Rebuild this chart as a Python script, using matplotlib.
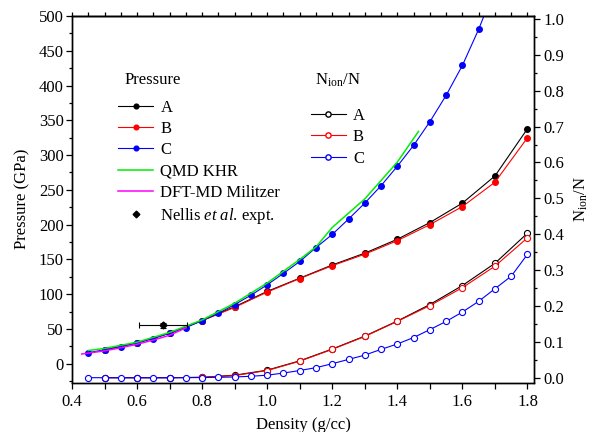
import matplotlib
matplotlib.use('Agg')
import matplotlib.pyplot as plt
from matplotlib.ticker import MultipleLocator, FormatStrFormatter
from matplotlib.lines import Line2D
import numpy as np

plt.rcParams['font.family'] = ['Liberation Serif', 'DejaVu Serif']
plt.rcParams['mathtext.fontset'] = 'custom'
plt.rcParams['mathtext.rm'] = 'Liberation Serif'
plt.rcParams['mathtext.it'] = 'Liberation Serif:italic'
plt.rcParams['font.size'] = 12

# ---------------- data ----------------
density_ab = [0.5, 0.6, 0.7, 0.8, 0.9, 1.0, 1.1, 1.2, 1.3, 1.4, 1.5, 1.6, 1.7, 1.8]
pressure_a = [20, 30, 44, 62, 82, 104, 123, 142, 159, 179, 203, 231, 270, 338]
pressure_b = [20, 30, 44, 62, 81, 103, 122.5, 141, 157.5, 177, 200, 226, 261, 325]
ion_a = [0.0, 0.0, 0.0, 0.001, 0.007, 0.021, 0.047, 0.080, 0.116, 0.158, 0.204, 0.257, 0.319, 0.403]
ion_b = [0.0, 0.0, 0.0, 0.001, 0.006, 0.020, 0.046, 0.079, 0.115, 0.157, 0.201, 0.251, 0.311, 0.390]

density_c = [0.45, 0.5, 0.55, 0.6, 0.65, 0.7, 0.75, 0.8, 0.85, 0.9, 0.95, 1.0, 1.05, 1.1,
             1.15, 1.2, 1.25, 1.3, 1.35, 1.4, 1.45, 1.5, 1.55, 1.6, 1.65, 1.7, 1.75, 1.8]
pressure_c = [16, 20, 24.5, 30, 36, 44, 52, 62, 72.5, 85, 98.5, 113.5, 130, 147,
              167, 186, 208, 231, 256, 284, 314, 348, 386, 429, 481, 540]
ion_c = [0.0, 0.0, 0.0, 0.0, 0.0, 0.0, 0.0, 0.0005, 0.001, 0.002, 0.004, 0.007, 0.013, 0.020,
         0.028, 0.039, 0.051, 0.063, 0.079, 0.094, 0.112, 0.134, 0.157, 0.183, 0.213, 0.248, 0.283, 0.344]

density_khr = [0.45, 0.5, 0.6, 0.7, 0.8, 0.9, 1.0, 1.1, 1.15, 1.2, 1.3, 1.4, 1.465]
pressure_khr = [19, 22, 31, 45, 63, 87, 116, 150, 168, 196, 237, 290, 334]

density_mil = [0.43, 0.5, 0.55, 0.6, 0.65, 0.7, 0.752]
pressure_mil = [14, 18.5, 23, 28, 34, 41, 52]

nellis_density = [0.68]
nellis_pressure = [55]
nellis_xerr = [0.074]
nellis_yerr = [4]

pressure_labels = ['A', 'B', 'C', 'QMD KHR', 'DFT-MD Militzer', r'Nellis $\it{et\ al}$. expt.']
ion_labels = ['A', 'B', 'C']

# ---------------- figure ----------------
W, H = 597, 432
fig = plt.figure(figsize=(W / 100, H / 100), dpi=100)
x0, x1, y0, y1 = 72, 534, 16, 382.5
ax = fig.add_axes([x0 / W, 1 - y1 / H, (x1 - x0) / W, (y1 - y0) / H])
ax2 = ax.twinx()

lw = 0.8
ms_f = 4.0
ms_o = 4.4
green = '#00ee00'

# ionization fraction (right axis), open markers
ax2.plot(density_ab, ion_a, '-o', color='black', lw=lw, ms=ms_o, mfc='white', mew=0.8)
ax2.plot(density_ab, ion_b, '-o', color='red', lw=lw, ms=ms_o, mfc='white', mew=0.8)
ax2.plot(density_c, ion_c, '-o', color='blue', lw=lw, ms=ms_o, mfc='white', mew=0.8)

# pressure (left axis)
ax.plot(density_ab, pressure_a, '-o', color='black', lw=lw, ms=ms_f)
ax.plot(density_ab, pressure_b, '-o', color='red', lw=lw, ms=ms_f)
ax.plot(density_c[:len(pressure_c)], pressure_c, '-o', color='blue', lw=lw, ms=ms_f)
ax.plot(density_khr, pressure_khr, '-', color=green, lw=1.1)
ax.plot(density_mil, pressure_mil, '-', color='magenta', lw=1.1)
ax.errorbar(nellis_density, nellis_pressure, xerr=nellis_xerr, yerr=nellis_yerr,
            fmt='D', color='black', ms=3.5, capsize=2, elinewidth=0.8, capthick=0.8)

ax.set_xlim(0.4, 1.82)
ax.set_ylim(-27, 500)
ax2.set_ylim(-0.0134, 1.0084)

ax.xaxis.set_major_locator(MultipleLocator(0.2))
ax.xaxis.set_minor_locator(MultipleLocator(0.1))
ax.yaxis.set_major_locator(MultipleLocator(50))
ax.yaxis.set_minor_locator(MultipleLocator(25))
ax2.yaxis.set_major_locator(MultipleLocator(0.1))
ax2.yaxis.set_minor_locator(MultipleLocator(0.05))
ax.xaxis.set_major_formatter(FormatStrFormatter('%.1f'))
ax2.yaxis.set_major_formatter(FormatStrFormatter('%.1f'))

for a in (ax, ax2):
    for s in a.spines.values():
        s.set_linewidth(1.0)
ax.tick_params(axis='x', which='both', direction='out', length=4.5, width=0.9, pad=3.5, labelsize=12)
ax.tick_params(axis='y', which='major', direction='out', length=4, width=0.9, pad=2, labelsize=12)
ax.tick_params(axis='y', which='minor', direction='out', length=2, width=0.9)
ax2.tick_params(axis='y', which='major', direction='out', length=4.5, width=0.9, pad=2, labelsize=12)
ax2.tick_params(axis='y', which='minor', direction='out', length=2.3, width=0.9)

sec = ax.secondary_xaxis('top')
sec.set_xticks(np.arange(0.4, 1.801, 0.05))
sec.tick_params(axis='x', direction='out', length=3, width=0.9, labeltop=False)
sec.set_xticklabels([])
sec.spines['top'].set_linewidth(1.0)

ax.set_xlabel('Density (g/cc)', fontsize=12, labelpad=5)
ax.set_ylabel('Pressure (GPa)', fontsize=12, labelpad=6)
ax2.set_ylabel(r'N$_{\mathrm{ion}}$/N', fontsize=12, labelpad=6)

# legends
h1 = [Line2D([], [], color='black', marker='o', ms=3.4, lw=lw),
      Line2D([], [], color='red', marker='o', ms=3.4, lw=lw),
      Line2D([], [], color='blue', marker='o', ms=3.4, lw=lw),
      Line2D([], [], color=green, lw=1.1),
      Line2D([], [], color='magenta', lw=1.1),
      Line2D([], [], color='black', marker='D', ms=3.4, lw=0)]
leg1 = ax2.legend(h1, pressure_labels, loc='upper left',
                  bbox_to_anchor=((118 - x0) / (x1 - x0), (y1 - 100) / (y1 - y0)),
                  frameon=False, borderpad=0, borderaxespad=0, handlelength=2.1,
                  handletextpad=0.45, labelspacing=0.31, fontsize=12)
ax2.add_artist(leg1)

h2 = [Line2D([], [], color='black', marker='o', ms=3.8, mfc='white', lw=lw),
      Line2D([], [], color='red', marker='o', ms=3.8, mfc='white', lw=lw),
      Line2D([], [], color='blue', marker='o', ms=3.8, mfc='white', lw=lw)]
leg2 = ax2.legend(h2, ion_labels, loc='upper left',
                  bbox_to_anchor=((310.5 - x0) / (x1 - x0), (y1 - 107.5) / (y1 - y0)),
                  frameon=False, borderpad=0, borderaxespad=0, handlelength=2.1,
                  handletextpad=0.45, labelspacing=0.34, fontsize=12)

fig.text(125 / W, 1 - 83.5 / H, 'Pressure', fontsize=12, ha='left', va='baseline')
fig.text(315 / W, 1 - 85 / H, r'N$_{\mathrm{ion}}$/N', fontsize=12, ha='left', va='baseline')

fig.savefig('out.png', dpi=100)
